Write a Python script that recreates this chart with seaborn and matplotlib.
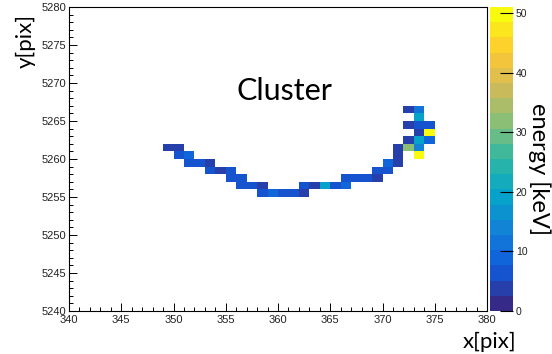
import numpy as np
import pandas as pd
import matplotlib
matplotlib.use("Agg")
import matplotlib.pyplot as plt
from matplotlib.colors import LinearSegmentedColormap, ListedColormap
from matplotlib.ticker import MultipleLocator
import seaborn as sns

# Hit pixels of the cluster: column, row and deposited energy (keV)
x_pix = [349, 350,
         350, 351,
         351, 352, 353,
         353, 354, 355,
         355, 356, 366, 367, 368, 369,
         356, 357, 358, 362, 363, 364, 365, 366,
         358, 359, 360, 361, 362,
         369, 370,
         370, 371,
         371, 373,
         371, 372, 373,
         372, 373, 374,
         373, 374,
         372, 373, 374,
         373,
         372, 373]
y_pix = [5261, 5261,
         5260, 5260,
         5259, 5259, 5259,
         5258, 5258, 5258,
         5257, 5257, 5257, 5257, 5257, 5257,
         5256, 5256, 5256, 5256, 5256, 5256, 5256, 5256,
         5255, 5255, 5255, 5255, 5255,
         5258, 5258,
         5259, 5259,
         5260, 5260,
         5261, 5261, 5261,
         5262, 5262, 5262,
         5263, 5263,
         5264, 5264, 5264,
         5265,
         5266, 5266]
energy = [3.5, 3.5,
          6.0, 8.5,
          6.0, 6.0, 3.5,
          6.0, 3.5, 6.0,
          6.0, 6.0, 6.0, 6.0, 6.0, 3.5,
          6.0, 6.0, 3.5, 6.0, 3.5, 19.0, 6.0, 8.5,
          6.0, 8.5, 6.0, 6.0, 3.5,
          6.0, 6.0,
          8.5, 3.5,
          3.5, 49.5,
          3.5, 31.5, 14.5,
          3.5, 19.0, 8.5,
          3.5, 51.0,
          3.5, 6.0, 6.0,
          18.0,
          3.5, 12.0]

x_range = (340, 380)
y_range = (5240, 5280)
x_ticks = list(range(340, 381, 5))
y_ticks = list(range(5240, 5281, 5))
cbar_ticks = [0, 10, 20, 30, 40, 50]
e_max = 51.0
n_levels = 20

# ROOT "bird" palette, cut into discrete contour levels
stops = [0.0, 0.125, 0.25, 0.375, 0.5, 0.625, 0.75, 0.875, 1.0]
red = [0.2082, 0.0592, 0.0780, 0.0232, 0.1802, 0.5301, 0.8186, 0.9956, 0.9764]
green = [0.1664, 0.3599, 0.5041, 0.6419, 0.7178, 0.7492, 0.7328, 0.7862, 0.9832]
blue = [0.5293, 0.8684, 0.8385, 0.7914, 0.6425, 0.4662, 0.3499, 0.1968, 0.0539]
bird = LinearSegmentedColormap.from_list("bird", list(zip(stops, zip(red, green, blue))))
cmap = ListedColormap(bird(np.linspace(0, 1, n_levels)))

hits = pd.DataFrame({"x": x_pix, "y": y_pix, "e": energy})
grid = hits.pivot_table(index="y", columns="x", values="e")
grid = grid.reindex(index=range(*y_range), columns=range(*x_range))

W, H = 552, 354
fig = plt.figure(figsize=(W / 100, H / 100), dpi=100)


def box(left, top, right, bottom):
    return [left / W, 1 - bottom / H, (right - left) / W, (bottom - top) / H]


ax = fig.add_axes(box(69, 7, 487, 311))
cax = fig.add_axes(box(490, 7, 513, 311))

sns.heatmap(grid, ax=ax, cmap=cmap, vmin=0, vmax=e_max, cbar_ax=cax,
            xticklabels=False, yticklabels=False)

ax.set_xlim(0, x_range[1] - x_range[0])
ax.set_ylim(0, y_range[1] - y_range[0])
ax.set_xlabel("")
ax.set_ylabel("")
for s in ax.spines.values():
    s.set_visible(True)
    s.set_linewidth(0.8)
    s.set_color("black")

tick_font = "Liberation Sans"
ax.set_xticks([t - x_range[0] for t in x_ticks])
ax.set_xticklabels([str(t) for t in x_ticks], fontfamily=tick_font, fontsize=8, color="#222222")
ax.set_yticks([t - y_range[0] for t in y_ticks])
ax.set_yticklabels([str(t) for t in y_ticks], fontfamily=tick_font, fontsize=8,
                   color="#222222", rotation=0)
ax.xaxis.set_minor_locator(MultipleLocator(1))
ax.yaxis.set_minor_locator(MultipleLocator(1))
ax.tick_params(axis="x", which="major", direction="in", length=5.8, width=0.7, pad=3,
               bottom=True, top=False)
ax.tick_params(axis="y", which="major", direction="in", length=5.8, width=0.7, pad=2,
               left=True, right=False)
ax.tick_params(axis="both", which="minor", direction="in", length=2.9, width=0.7)
ax.tick_params(axis="x", which="minor", top=False)
ax.tick_params(axis="y", which="minor", right=False)

cax.set_yticks(cbar_ticks)
cax.set_yticklabels([str(t) for t in cbar_ticks], fontfamily=tick_font, fontsize=7.5,
                    color="#222222")
cax.tick_params(axis="y", direction="in", length=9.5, width=0.8, pad=2,
                right=True, left=False, labelright=True, labelleft=False)
cax.minorticks_off()

title_font = "Lato"
fig.text(284 / W, 1 - 91 / H, "Cluster", fontsize=22, family=title_font,
         ha="center", va="center")
fig.text(516 / W, 1 - 342 / H, "x[pix]", fontsize=16, family=title_font,
         ha="right", va="center")
fig.text(26 / W, 1 - 14 / H, "y[pix]", fontsize=16, family=title_font,
         rotation=90, ha="center", va="top")
fig.text(539 / W, 1 - 169 / H, "energy [keV]", fontsize=17, family=title_font,
         rotation=270, ha="center", va="center")

fig.savefig("out.png", dpi=100)
